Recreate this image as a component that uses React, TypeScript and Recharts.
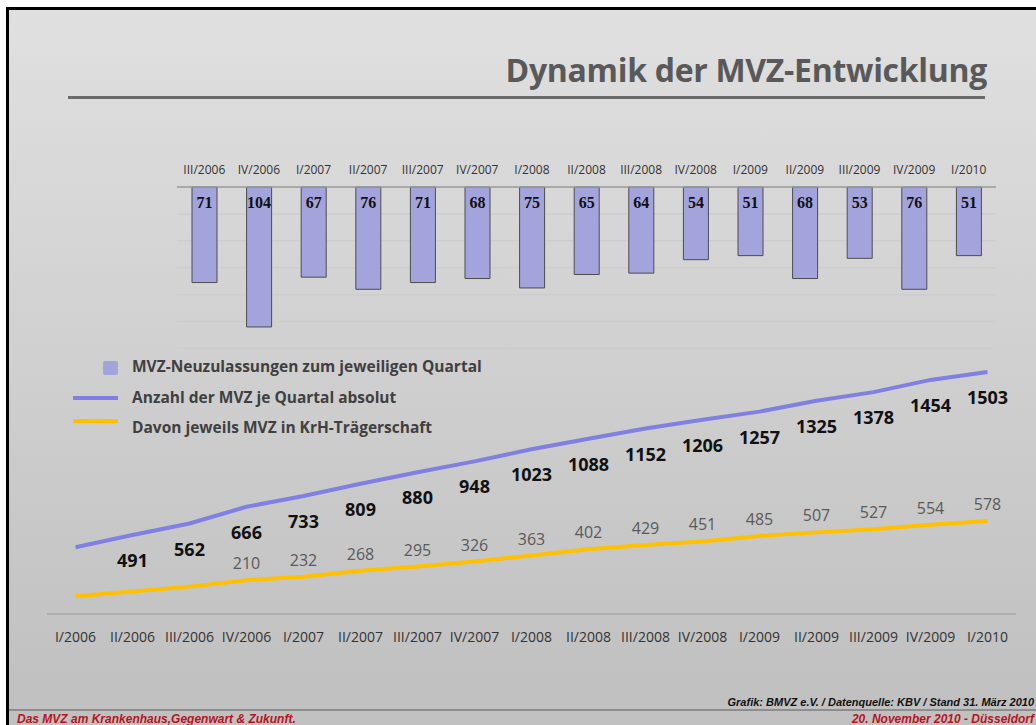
import { Bar, BarChart, CartesianGrid, LabelList, Line, LineChart, XAxis, YAxis } from "recharts";

// quarters of the bar panel (new admissions per quarter)
const BAR_QUARTERS = [
  "III/2006", "IV/2006", "I/2007", "II/2007", "III/2007", "IV/2007", "I/2008", "II/2008",
  "III/2008", "IV/2008", "I/2009", "II/2009", "III/2009", "IV/2009", "I/2010",
];
const NEUZULASSUNGEN = [71, 104, 67, 76, 71, 68, 75, 65, 64, 54, 51, 68, 53, 76, 51];

// quarters of the line panel
const LINE_QUARTERS = [
  "I/2006", "II/2006", "III/2006", "IV/2006", "I/2007", "II/2007", "III/2007", "IV/2007",
  "I/2008", "II/2008", "III/2008", "IV/2008", "I/2009", "II/2009", "III/2009", "IV/2009", "I/2010",
];
// first values are unlabeled in the source, estimated from the line position
const ANZAHL = [415, 491, 562, 666, 733, 809, 880, 948, 1023, 1088, 1152, 1206, 1257, 1325, 1378, 1454, 1503];
const KRH = [110, 140, 170, 210, 232, 268, 295, 326, 363, 402, 429, 451, 485, 507, 527, 554, 578];
const FIRST_LABEL_ANZAHL = 1;
const FIRST_LABEL_KRH = 3;

const BAR_TICKS = [20, 40, 60, 80, 100];

const PURPLE = "#8080e2";
const YELLOW = "#ffc000";
const BAR_FILL = "#a4a4dc";

const barData = BAR_QUARTERS.map((q, i) => ({ q, v: NEUZULASSUNGEN[i] }));
const lineData = LINE_QUARTERS.map((q, i) => ({ q, anzahl: ANZAHL[i], krh: KRH[i] }));

function BarValue(props: any) {
  const { x, y, width, height, value } = props;
  const top = Math.min(y, y + height);
  return (
    <text
      x={x + width / 2}
      y={top + 15}
      textAnchor="middle"
      dominantBaseline="central"
      fontFamily="'Liberation Serif', serif"
      fontWeight={700}
      fontSize={16}
      fill="#111"
    >
      {value}
    </text>
  );
}

function AnzahlLabel(props: any) {
  const { x, y, value, index } = props;
  if (index < FIRST_LABEL_ANZAHL) return null;
  return (
    <text x={x} y={y + 25} textAnchor="middle" dominantBaseline="central" fontWeight={700} fontSize={18} fill="#111">
      {value}
    </text>
  );
}

function KrhLabel(props: any) {
  const { x, y, value, index } = props;
  if (index < FIRST_LABEL_KRH) return null;
  return (
    <text x={x} y={y - 17} textAnchor="middle" dominantBaseline="central" fontSize={16} fill="#5a5a5a">
      {value}
    </text>
  );
}

const legendText = {
  position: "absolute" as const,
  left: 132,
  fontSize: 15.5,
  fontWeight: 700,
  color: "#404040",
  lineHeight: "20px",
  whiteSpace: "nowrap" as const,
};

const footerRed = {
  position: "absolute" as const,
  top: 712,
  fontFamily: "'Liberation Sans', Arial, sans-serif",
  fontSize: 12,
  fontWeight: 700,
  fontStyle: "italic" as const,
  color: "#b8141c",
  lineHeight: "14px",
  whiteSpace: "nowrap" as const,
};

export default function App() {
  return (
    <div
      style={{
        position: "absolute",
        left: 0,
        top: 0,
        width: 1036,
        height: 725,
        overflow: "hidden",
        background: "#fff",
        fontFamily: "'Open Sans', sans-serif",
      }}
    >
      {/* slide */}
      <div
        style={{
          position: "absolute",
          left: 6,
          top: 7,
          width: 1100,
          height: 760,
          borderLeft: "3px solid #000",
          borderTop: "3px solid #000",
          background: "linear-gradient(#e0e0e0, #c2c2c2 85%, #bfbfbf)",
        }}
      />
      <div
        style={{
          position: "absolute",
          right: 49,
          top: 54,
          fontSize: 32,
          fontWeight: 700,
          lineHeight: 1,
          color: "#595959",
          letterSpacing: -0.3,
          whiteSpace: "nowrap",
        }}
      >
        Dynamik der MVZ-Entwicklung
      </div>
      <div style={{ position: "absolute", left: 68, top: 96, width: 917, height: 3, background: "#6b6b6b" }} />

      <div style={{ position: "absolute", left: 0, top: 0 }}>
        <BarChart width={1036} height={360} data={barData} margin={{ top: 157, right: 40, left: 177, bottom: 11.5 }}>
          <CartesianGrid vertical={false} stroke="#cdcdcd" strokeWidth={1.5} />
          <XAxis
            dataKey="q"
            orientation="top"
            height={30}
            interval={0}
            tickLine={false}
            tickSize={0}
            tickMargin={13}
            axisLine={{ stroke: "#9c9c9c", strokeWidth: 1.5 }}
            tick={{ fill: "#333", fontSize: 12 }}
          />
          <YAxis hide reversed domain={[0, 120]} ticks={BAR_TICKS} />
          <Bar dataKey="v" barSize={25} fill={BAR_FILL} stroke="#4d4d4d" strokeWidth={1} isAnimationActive={false}>
            <LabelList dataKey="v" content={BarValue} />
          </Bar>
        </BarChart>
      </div>

      {/* legend */}
      <div style={{ position: "absolute", left: 103, top: 361, width: 15, height: 14, background: BAR_FILL, borderRadius: 2 }} />
      <div style={{ ...legendText, top: 356 }}>MVZ-Neuzulassungen zum jeweiligen Quartal</div>
      <div style={{ position: "absolute", left: 73, top: 396, width: 45, height: 4, background: PURPLE }} />
      <div style={{ ...legendText, top: 387 }}>Anzahl der MVZ je Quartal absolut</div>
      <div style={{ position: "absolute", left: 73, top: 419, width: 45, height: 4, background: YELLOW }} />
      <div style={{ ...legendText, top: 417 }}>Davon jeweils MVZ in KrH-Trägerschaft</div>

      <div style={{ position: "absolute", left: 0, top: 340 }}>
        <LineChart width={1036} height={320} data={lineData} margin={{ top: 16.4, right: 20, left: 47, bottom: 16 }}>
          <XAxis
            dataKey="q"
            height={30}
            interval={0}
            padding={{ left: 28.5, right: 28.5 }}
            tickLine={false}
            tickSize={0}
            tickMargin={18}
            axisLine={{ stroke: "#a8a8a8", strokeWidth: 1.5 }}
            tick={{ fill: "#333", fontSize: 14 }}
          />
          <YAxis hide domain={[0, 1600]} />
          <Line type="linear" dataKey="krh" stroke={YELLOW} strokeWidth={4} dot={false} isAnimationActive={false}>
            <LabelList dataKey="krh" content={KrhLabel} />
          </Line>
          <Line type="linear" dataKey="anzahl" stroke={PURPLE} strokeWidth={4} dot={false} isAnimationActive={false}>
            <LabelList dataKey="anzahl" content={AnzahlLabel} />
          </Line>
        </LineChart>
      </div>

      {/* footer */}
      <div
        style={{
          position: "absolute",
          right: 2,
          top: 695,
          fontFamily: "'Liberation Sans Narrow', 'Liberation Sans', sans-serif",
          fontSize: 11,
          fontWeight: 700,
          fontStyle: "italic",
          color: "#111",
          lineHeight: "14px",
          whiteSpace: "nowrap",
        }}
      >
        Grafik: BMVZ e.V. / Datenquelle: KBV / Stand 31. März 2010
      </div>
      <div style={{ position: "absolute", left: 9, top: 709, width: 1030, height: 1.5, background: "#8e8e8e" }} />
      <div style={{ ...footerRed, left: 17 }}>Das MVZ am Krankenhaus,Gegenwart &amp; Zukunft.</div>
      <div style={{ ...footerRed, right: 2 }}>20. November 2010 - Düsseldorf</div>
    </div>
  );
}
